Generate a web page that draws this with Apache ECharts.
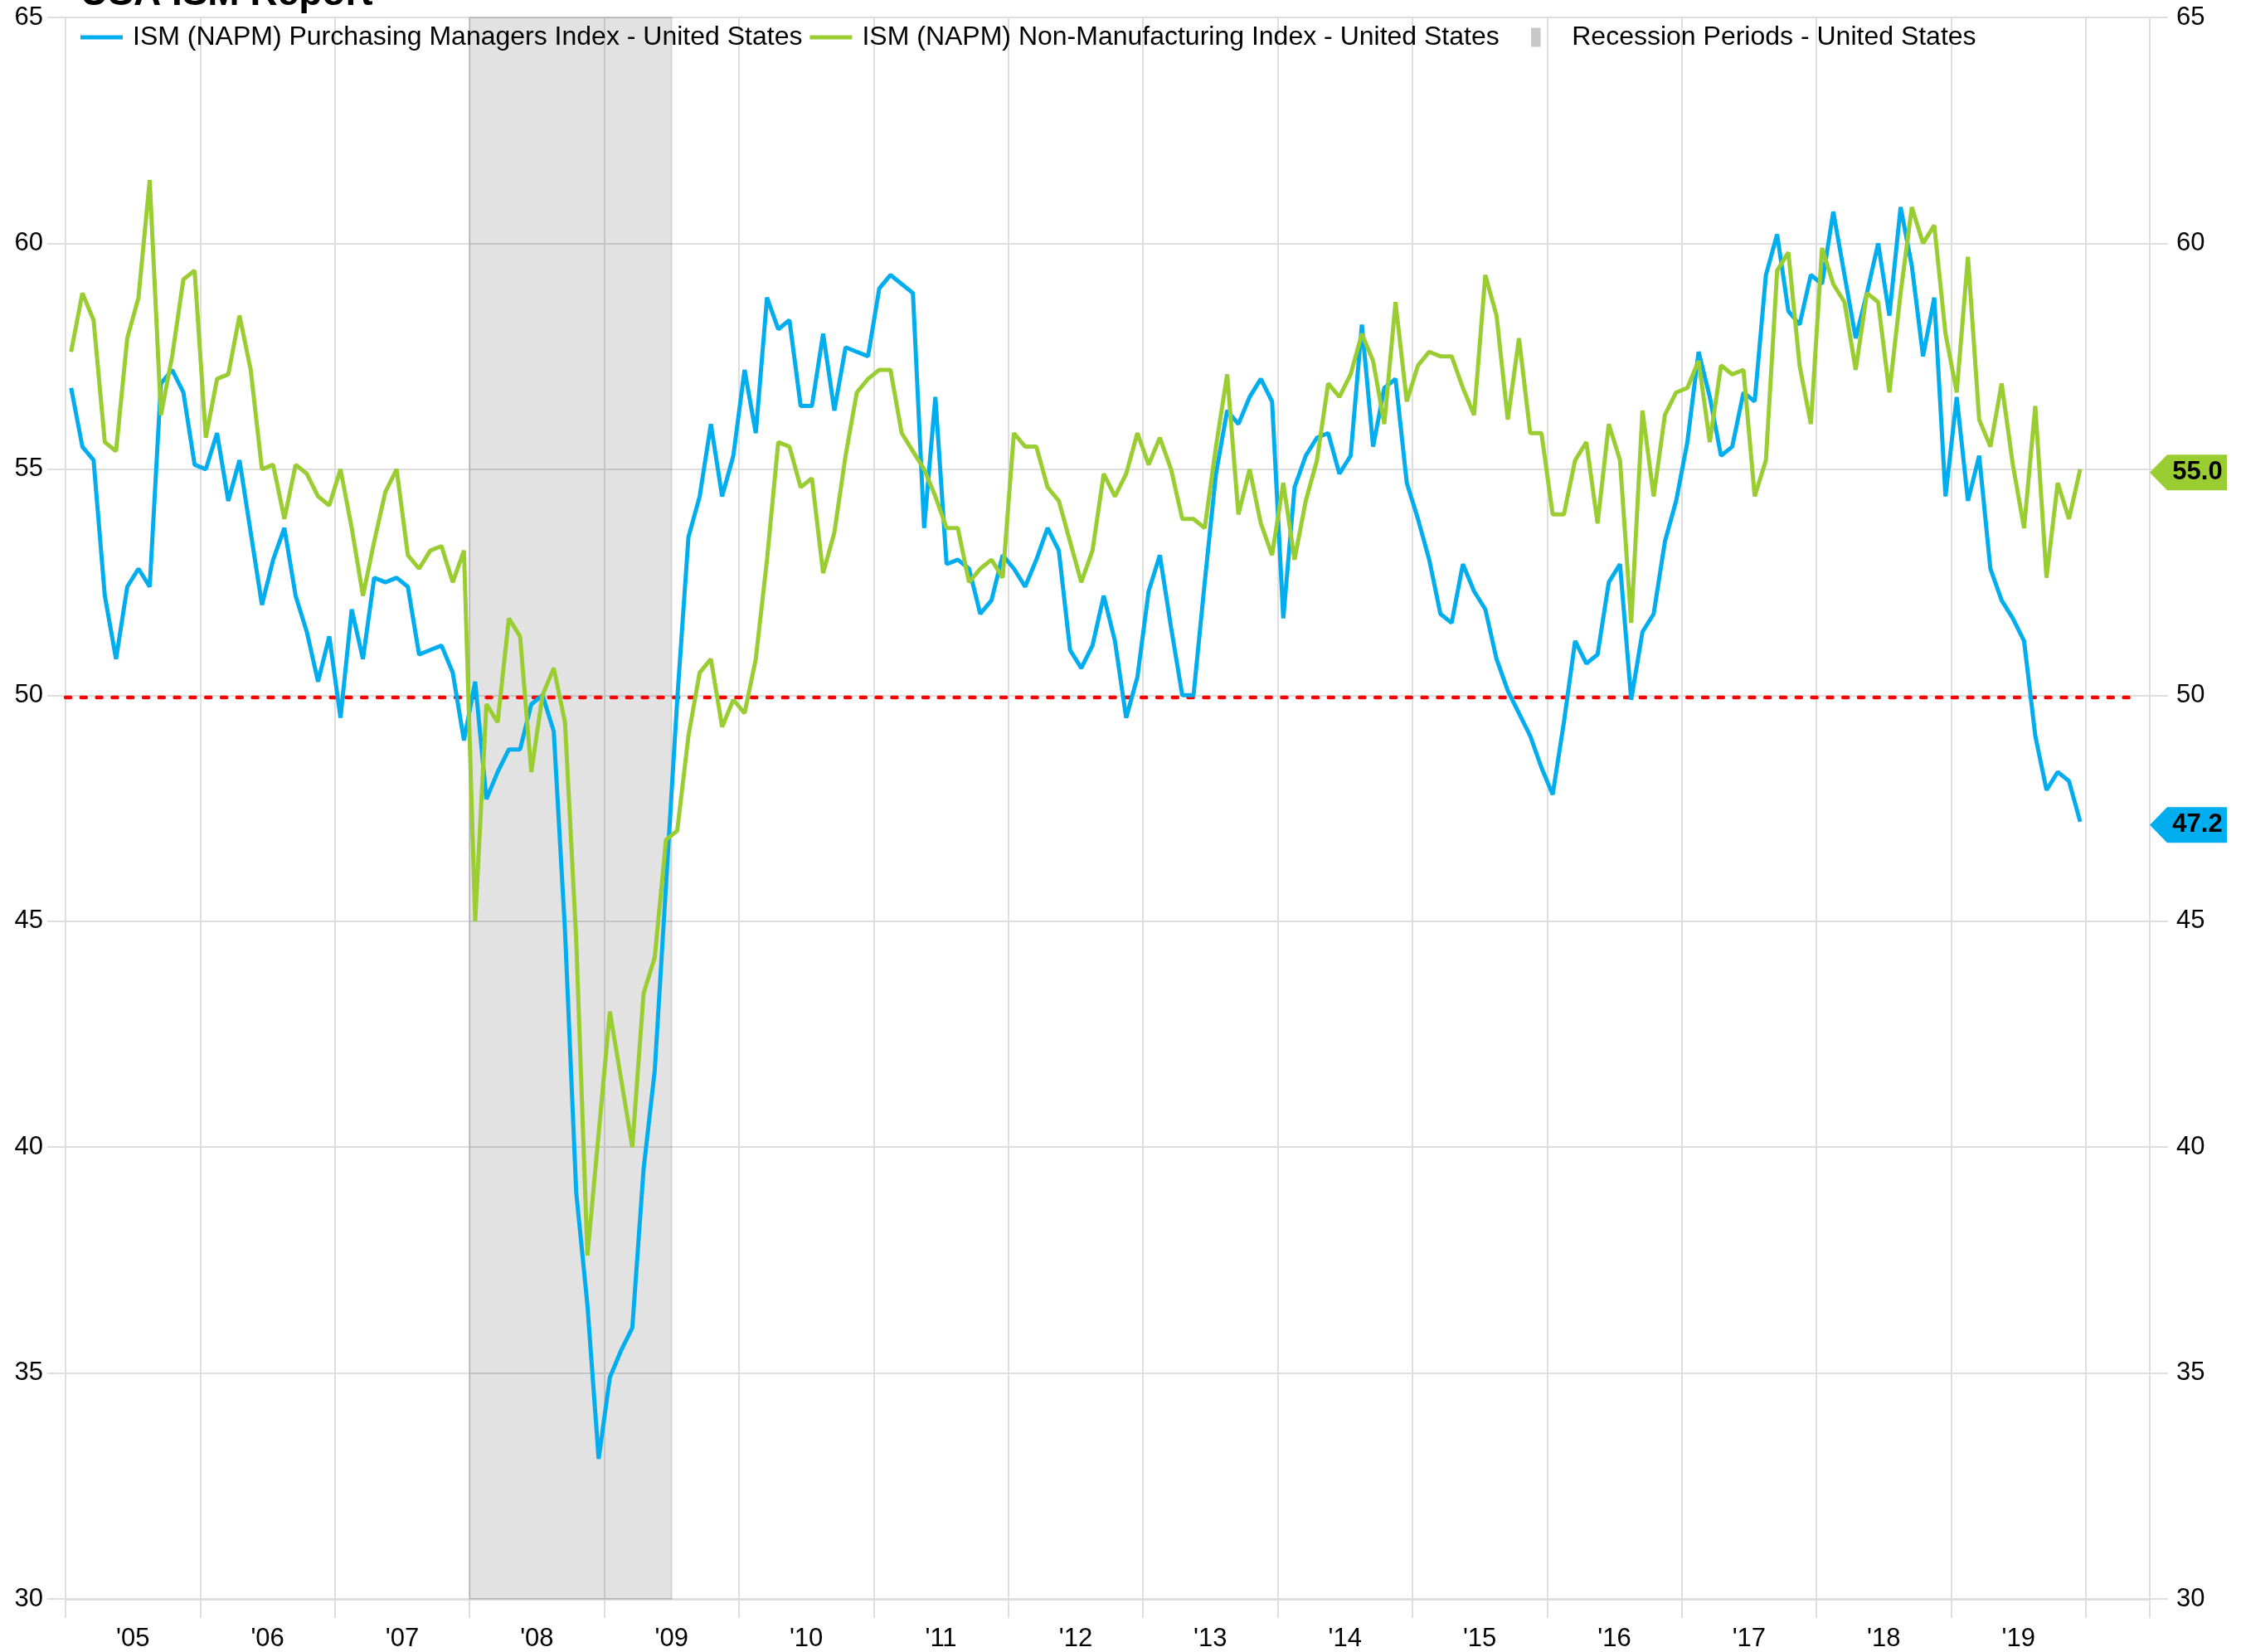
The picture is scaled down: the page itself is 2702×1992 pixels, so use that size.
<!DOCTYPE html>
<html>
<head>
<meta charset="utf-8">
<title>USA ISM Report</title>
<script src="https://cdn.jsdelivr.net/npm/echarts@6/dist/echarts.min.js"></script>
<style>
  html, body { margin: 0; padding: 0; background: #fff; }
  #viz { width: 2702px; height: 1992px; }
</style>
</head>
<body>
<div id="viz"></div>
<script>
/* monthly readings, one row per year, Jan 2005 .. Dec 2019 */
var startYear = 2005;

var pmiName = 'ISM (NAPM) Purchasing Managers Index - United States';
var pmi = [
  56.8, 55.5, 55.2, 52.2, 50.8, 52.4, 52.8, 52.4, 56.9, 57.2, 56.7, 55.1,
  55.0, 55.8, 54.3, 55.2, 53.6, 52.0, 53.0, 53.7, 52.2, 51.4, 50.3, 51.3,
  49.5, 51.9, 50.8, 52.6, 52.5, 52.6, 52.4, 50.9, 51.0, 51.1, 50.5, 49.0,
  50.3, 47.7, 48.3, 48.8, 48.8, 49.8, 50.0, 49.2, 44.8, 39.0, 36.5, 33.1,
  34.9, 35.5, 36.0, 39.5, 41.7, 45.8, 49.9, 53.5, 54.4, 56.0, 54.4, 55.3,
  57.2, 55.8, 58.8, 58.1, 58.3, 56.4, 56.4, 58.0, 56.3, 57.7, 57.6, 57.5,
  59.0, 59.3, 59.1, 58.9, 53.7, 56.6, 52.9, 53.0, 52.8, 51.8, 52.1, 53.1,
  52.8, 52.4, 53.0, 53.7, 53.2, 51.0, 50.6, 51.1, 52.2, 51.2, 49.5, 50.4,
  52.3, 53.1, 51.5, 50.0, 50.0, 52.5, 54.9, 56.3, 56.0, 56.6, 57.0, 56.5,
  51.7, 54.6, 55.3, 55.7, 55.8, 54.9, 55.3, 58.2, 55.5, 56.8, 57.0, 54.7,
  53.9, 53.0, 51.8, 51.6, 52.9, 52.3, 51.9, 50.8, 50.1, 49.6, 49.1, 48.4,
  47.8, 49.4, 51.2, 50.7, 50.9, 52.5, 52.9, 49.9, 51.4, 51.8, 53.4, 54.3,
  55.6, 57.6, 56.6, 55.3, 55.5, 56.7, 56.5, 59.3, 60.2, 58.5, 58.2, 59.3,
  59.1, 60.7, 59.3, 57.9, 58.9, 60.0, 58.4, 60.8, 59.5, 57.5, 58.8, 54.4,
  56.6, 54.3, 55.3, 52.8, 52.1, 51.7, 51.2, 49.1, 47.9, 48.3, 48.1, 47.2
];

var nmiName = 'ISM (NAPM) Non-Manufacturing Index - United States';
var nmi = [
  57.6, 58.9, 58.3, 55.6, 55.4, 57.9, 58.8, 61.4, 56.2, 57.5, 59.2, 59.4,
  55.7, 57.0, 57.1, 58.4, 57.2, 55.0, 55.1, 53.9, 55.1, 54.9, 54.4, 54.2,
  55.0, 53.7, 52.2, 53.4, 54.5, 55.0, 53.1, 52.8, 53.2, 53.3, 52.5, 53.2,
  45.0, 49.8, 49.4, 51.7, 51.3, 48.3, 50.0, 50.6, 49.4, 44.6, 37.6, 40.3,
  43.0, 41.5, 40.0, 43.4, 44.2, 46.8, 47.0, 49.1, 50.5, 50.8, 49.3, 49.9,
  49.6, 50.8, 53.0, 55.6, 55.5, 54.6, 54.8, 52.7, 53.6, 55.3, 56.7, 57.0,
  57.2, 57.2, 55.8, 55.4, 55.0, 54.4, 53.7, 53.7, 52.5, 52.8, 53.0, 52.6,
  55.8, 55.5, 55.5, 54.6, 54.3, 53.4, 52.5, 53.2, 54.9, 54.4, 54.9, 55.8,
  55.1, 55.7, 55.0, 53.9, 53.9, 53.7, 55.5, 57.1, 54.0, 55.0, 53.8, 53.1,
  54.7, 53.0, 54.3, 55.2, 56.9, 56.6, 57.1, 58.0, 57.4, 56.0, 58.7, 56.5,
  57.3, 57.6, 57.5, 57.5, 56.8, 56.2, 59.3, 58.4, 56.1, 57.9, 55.8, 55.8,
  54.0, 54.0, 55.2, 55.6, 53.8, 56.0, 55.2, 51.6, 56.3, 54.4, 56.2, 56.7,
  56.8, 57.4, 55.6, 57.3, 57.1, 57.2, 54.4, 55.2, 59.4, 59.8, 57.3, 56.0,
  59.9, 59.1, 58.7, 57.2, 58.9, 58.7, 56.7, 58.9, 60.8, 60.0, 60.4, 58.0,
  56.7, 59.7, 56.1, 55.5, 56.9, 55.1, 53.7, 56.4, 52.6, 54.7, 53.9, 55.0
];

var recName = 'Recession Periods - United States';
var recession = ['2008-01', '2009-06'];   // first and last shaded month

var threshold = 49.95;
var yearLabels = ['05', '06', '07', '08', '09', '10', '11', '12', '13', '14', '15', '16', '17', '18', '19'];

var FONT = 'Liberation Sans, Arial, sans-serif';
var BLUE = '#00aeef';
var GREEN = '#9acd32';
var GRID = '#dedede';
var xMax = 185.7;   // axis runs to mid July 2020

function monthIndex(s){
    var p = s.split('-');
    return (+p[0] - startYear) * 12 + (+p[1] - 1);
}

function toPoints(values){
    var out = [];
    for (var i = 0; i < values.length; i++){
        out.push([i + 0.5, values[i]]);
    }
    return out;
}

// arrow shaped value tag at the right edge
function endTag(values, color){
    var last = values[values.length - 1];
    return {
        silent: true,
        symbol: 'path://M0,21.5L21,0L93,0L93,43L21,43Z',
        symbolSize: [93, 43],
        symbolKeepAspect: false,
        symbolOffset: [46.5, 4],
        itemStyle: { color: color },
        label: {
            show: true, position: 'inside', offset: [11, 0],
            fontSize: 31, fontWeight: 'bold', color: '#000', fontFamily: FONT,
            formatter: last.toFixed(1)
        },
        data: [{ coord: [xMax, last] }]
    };
}

function yAxisOpt(pos, margin, split){
    return {
        type: 'value', position: pos, min: 30, max: 65, interval: 5,
        axisLine: { show: true, lineStyle: { color: GRID, width: 2 } },
        axisTick: { show: true, length: 22, lineStyle: { color: GRID, width: 2 } },
        splitLine: { show: split, lineStyle: { color: GRID, width: 2 } },
        axisLabel: { margin: margin, fontSize: 31, color: '#000', fontFamily: FONT }
    };
}

function legendOpt(left, names, icon, pad){
    var items = [];
    for (var i = 0; i < names.length; i++){ items.push({ name: names[i], icon: icon }); }
    return {
        left: left, top: 24, itemWidth: 51, itemHeight: 23, itemGap: 9,
        itemStyle: { borderWidth: 0 },
        textStyle: { fontSize: 32, color: '#000', fontFamily: FONT, padding: [0, 0, 0, pad] },
        data: items
    };
}

function plotrun(){
    var myChart = echarts.init(document.getElementById('viz'));

    var labelPos = [];
    for (var k = 0; k < yearLabels.length; k++){ labelPos.push(6 + 12 * k); }

    var lineIcon = 'path://M0,0H10V1H0Z';
    var barIcon = 'path://M0,0H1V2H0Z';

    var option = {
        animation: false,
        backgroundColor: '#fff',
        title: {
            text: 'USA ISM Report', left: 92, top: -35,
            textStyle: { fontSize: 46, fontWeight: 'bold', color: '#000', fontFamily: FONT }
        },
        legend: [
            legendOpt(92, [pmiName, nmiName], lineIcon, 7),
            legendOpt(1841, [recName], barIcon, 13)
        ],
        grid: { left: 79, right: 110, top: 21, bottom: 64 },
        xAxis: {
            type: 'value', min: 0, max: xMax, interval: 12,
            axisLine: { show: true, lineStyle: { color: GRID, width: 3 } },
            axisTick: { show: true, length: 23, lineStyle: { color: GRID, width: 2 } },
            splitLine: { show: true, lineStyle: { color: GRID, width: 2 } },
            axisLabel: {
                customValues: labelPos, margin: 33,
                fontSize: 31, color: '#000', fontFamily: FONT,
                formatter: function(v){ return "'" + yearLabels[Math.round((v - 6) / 12)]; }
            }
        },
        yAxis: [yAxisOpt('left', 27, true), yAxisOpt('right', 32, false)],
        series: [{
            name: recName, type: 'line', data: [], z: 1,
            color: '#c8c8c8',
            markArea: {
                silent: true,
                itemStyle: { color: 'rgba(0,0,0,0.115)', borderColor: 'rgba(0,0,0,0.1)', borderWidth: 2 },
                data: [[{ xAxis: monthIndex(recession[0]) }, { xAxis: monthIndex(recession[1]) + 1 }]]
            }
        }, {
            name: 'threshold', type: 'line', z: 2,
            data: [[0, threshold], [184, threshold]],
            showSymbol: false, symbol: 'none', silent: true,
            lineStyle: { color: '#ff0000', width: 4.5, type: [6, 12.8], cap: 'round' }
        }, {
            name: pmiName, type: 'line', z: 3,
            data: toPoints(pmi), color: BLUE,
            showSymbol: false, symbol: 'none',
            lineStyle: { color: BLUE, width: 5 },
            markPoint: endTag(pmi, BLUE)
        }, {
            name: nmiName, type: 'line', z: 4,
            data: toPoints(nmi), color: GREEN,
            showSymbol: false, symbol: 'none',
            lineStyle: { color: GREEN, width: 5 },
            markPoint: endTag(nmi, GREEN)
        }]
    };
    myChart.setOption(option, true);
}

plotrun();
</script>
</body>
</html>
